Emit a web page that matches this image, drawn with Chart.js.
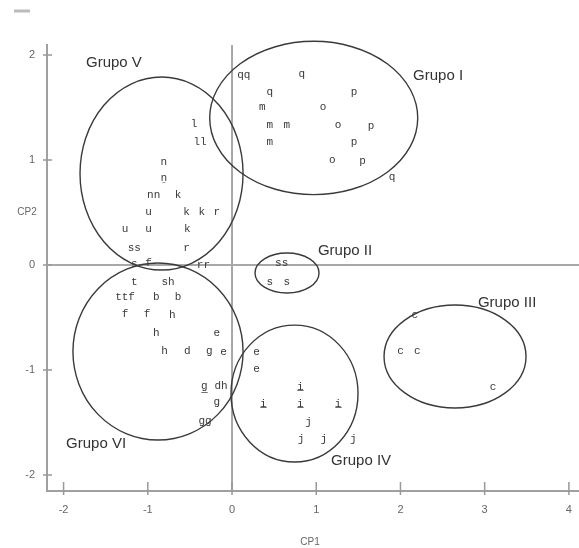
<!DOCTYPE html>
<html>
<head>
<meta charset="utf-8">
<script src="https://cdn.jsdelivr.net/npm/chart.js@4.4.1/dist/chart.umd.min.js"></script>
<style>
  html, body { margin: 0; padding: 0; background: #fff; }
</style>
</head>
<body>
<canvas id="mycanvas" width="579" height="548"></canvas>
<script>
// point labels (CP1, CP2)
var pointLabels = [
  'qq','q','q','p','m','o','m','m','o','p','m','p','o','p','q',
  'ss','s','s',
  'c','c','c','c',
  'e','e','i̲','i̲','i̲','i̲','j','j','j','j',
  'l','ll','n','ṉ','nn','k','u','k','k','r','u','u','k','ss','r','s','f','rr',
  't','sh','ttf','b','b','f','f','h','h','e','h','d','g','e','g̲','dh','g','gg'
];
var pointX = [
  0.14, 0.83, 0.45, 1.45, 0.36, 1.08, 0.45, 0.65, 1.26, 1.65, 0.45, 1.45, 1.19, 1.55, 1.90,
  0.59, 0.45, 0.65,
  2.17, 2.00, 2.20, 3.10,
  0.29, 0.29, 0.81, 0.37, 0.81, 1.26, 0.91, 0.82, 1.09, 1.44,
  -0.45, -0.38, -0.81, -0.81, -0.93, -0.64, -0.99, -0.54, -0.36, -0.18, -1.27, -0.99, -0.53, -1.16, -0.54, -1.16, -0.99, -0.34,
  -1.16, -0.76, -1.27, -0.90, -0.64, -1.27, -1.01, -0.71, -0.90, -0.18, -0.80, -0.53, -0.27, -0.10, -0.33, -0.13, -0.18, -0.32
];
var pointY = [
  1.81, 1.82, 1.65, 1.65, 1.50, 1.50, 1.33, 1.33, 1.33, 1.32, 1.17, 1.17, 1.00, 0.99, 0.84,
  0.02, -0.16, -0.16,
  -0.48, -0.82, -0.82, -1.16,
  -0.83, -0.99, -1.16, -1.32, -1.32, -1.32, -1.50, -1.66, -1.66, -1.66,
  1.34, 1.17, 0.98, 0.83, 0.67, 0.67, 0.50, 0.50, 0.50, 0.50, 0.34, 0.34, 0.34, 0.16, 0.16, 0.01, 0.02, 0.00,
  -0.16, -0.16, -0.31, -0.31, -0.31, -0.47, -0.47, -0.48, -0.65, -0.65, -0.82, -0.82, -0.82, -0.83, -1.15, -1.15, -1.31, -1.49
];

// group ellipses (centre and radii in CP units) and their captions
var groupNames = ['Grupo I', 'Grupo II', 'Grupo III', 'Grupo IV', 'Grupo V', 'Grupo VI'];
var groupCx = [0.97, 0.653, 2.648, 0.742, -0.837, -0.879];
var groupCy = [1.40, -0.076, -0.871, -1.224, 0.871, -0.824];
var groupRx = [1.235, 0.38, 0.843, 0.754, 0.968, 1.01];
var groupRy = [0.73, 0.19, 0.49, 0.652, 0.919, 0.843];
var groupLabelX = [2.15, 1.02, 2.92, 1.176, -1.734, -1.97];
var groupLabelY = [1.80, 0.13, -0.362, -1.867, 1.924, -1.705];

var xTicks = [-2, -1, 0, 1, 2, 3, 4];
var yTicks = [-2, -1, 0, 1, 2];

var points = [];
for (var i in pointLabels) {
  points.push({x: pointX[i], y: pointY[i]});
}

var decor = {
  id: 'decor',
  beforeDatasetsDraw: function(chart) {
    var ctx = chart.ctx, a = chart.chartArea;
    var xs = chart.scales.x, ys = chart.scales.y;
    ctx.save();
    // zero lines
    ctx.strokeStyle = '#a8a8a8';
    ctx.lineWidth = 2;
    ctx.beginPath();
    ctx.moveTo(xs.getPixelForValue(0), a.top);
    ctx.lineTo(xs.getPixelForValue(0), a.bottom);
    ctx.moveTo(a.left, ys.getPixelForValue(0));
    ctx.lineTo(chart.width, ys.getPixelForValue(0));
    ctx.stroke();
    // tick marks
    ctx.strokeStyle = '#999';
    ctx.lineWidth = 1.5;
    ctx.beginPath();
    xTicks.forEach(function(v) {
      var px = xs.getPixelForValue(v);
      ctx.moveTo(px, a.bottom - 9);
      ctx.lineTo(px, a.bottom + 4);
    });
    yTicks.forEach(function(v) {
      var py = ys.getPixelForValue(v);
      ctx.moveTo(a.left - 4, py);
      ctx.lineTo(a.left + 5, py);
    });
    ctx.stroke();
    // small mark top left
    ctx.strokeStyle = '#bbb';
    ctx.lineWidth = 3;
    ctx.beginPath();
    ctx.moveTo(14, 11);
    ctx.lineTo(30, 11);
    ctx.stroke();
    // ellipses
    var kx = xs.getPixelForValue(1) - xs.getPixelForValue(0);
    var ky = ys.getPixelForValue(0) - ys.getPixelForValue(1);
    ctx.strokeStyle = '#3a3a3a';
    ctx.lineWidth = 1.4;
    for (var g in groupNames) {
      ctx.beginPath();
      ctx.ellipse(xs.getPixelForValue(groupCx[g]), ys.getPixelForValue(groupCy[g]),
                  groupRx[g] * kx, groupRy[g] * ky, 0, 0, Math.PI * 2);
      ctx.stroke();
    }
    ctx.restore();
  },
  afterDatasetsDraw: function(chart) {
    var ctx = chart.ctx;
    var xs = chart.scales.x, ys = chart.scales.y;
    var meta = chart.getDatasetMeta(0);
    ctx.save();
    ctx.textAlign = 'center';
    ctx.textBaseline = 'middle';
    ctx.fillStyle = '#3a3a3a';
    ctx.font = '11px "Liberation Mono"';
    meta.data.forEach(function(el, i) {
      ctx.fillText(pointLabels[i], el.x, el.y);
    });
    // group captions
    ctx.textAlign = 'left';
    ctx.fillStyle = '#333';
    ctx.font = '15px "Liberation Sans"';
    for (var g in groupNames) {
      ctx.fillText(groupNames[g], xs.getPixelForValue(groupLabelX[g]), ys.getPixelForValue(groupLabelY[g]));
    }
    // axis titles
    ctx.textAlign = 'center';
    ctx.fillStyle = '#666';
    ctx.font = '10px "Liberation Sans"';
    ctx.fillText('CP1', 310, 542);
    ctx.fillText('CP2', 27, 212);
    ctx.restore();
  }
};

var ctx = document.getElementById('mycanvas');
var chart = new Chart(ctx, {
  type: 'scatter',
  data: {
    datasets: [{
      data: points,
      pointRadius: 0,
      pointHoverRadius: 0
    }]
  },
  options: {
    responsive: false,
    animation: false,
    layout: { padding: { top: 45, left: 0, right: 0, bottom: 0 } },
    plugins: { legend: { display: false }, tooltip: { enabled: false } },
    scales: {
      x: {
        type: 'linear',
        min: -2.197,
        max: 4.12,
        afterBuildTicks: function(s) { s.ticks = xTicks.map(function(v) { return {value: v}; }); },
        afterFit: function(s) { s.height = 57; },
        grid: { display: false, drawTicks: true, tickLength: 9 },
        border: { display: true, color: '#a0a0a0', width: 2 },
        ticks: { color: '#666', padding: 3, font: { family: 'Liberation Sans', size: 11 } }
      },
      y: {
        type: 'linear',
        min: -2.152,
        max: 2.095,
        afterBuildTicks: function(s) { s.ticks = yTicks.map(function(v) { return {value: v}; }); },
        afterFit: function(s) { s.width = 47; },
        grid: { display: false, drawTicks: true, tickLength: 9 },
        border: { display: true, color: '#a0a0a0', width: 2 },
        ticks: { color: '#666', padding: 3, font: { family: 'Liberation Sans', size: 11 } }
      }
    }
  },
  plugins: [decor]
});
</script>
</body>
</html>
